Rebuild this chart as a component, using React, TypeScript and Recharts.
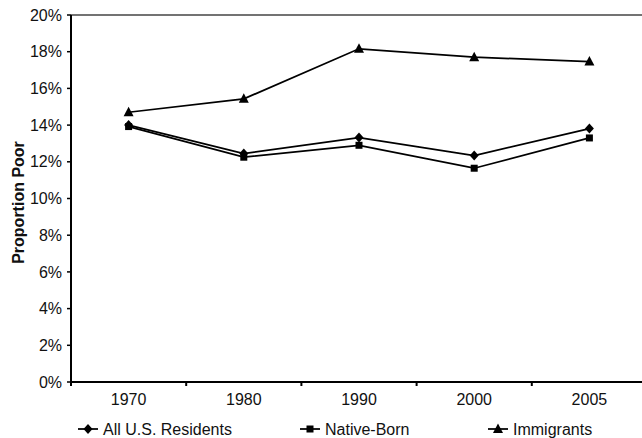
import React from 'react';
import { LineChart, Line, XAxis, YAxis, ReferenceLine, Legend } from 'recharts';

const years = ['1970', '1980', '1990', '2000', '2005'];
const allResidents = [14.0, 12.45, 13.32, 12.34, 13.81];
const nativeBorn = [13.92, 12.25, 12.9, 11.65, 13.3];
const immigrants = [14.7, 15.43, 18.16, 17.7, 17.46];
const yTicks = [0, 2, 4, 6, 8, 10, 12, 14, 16, 18, 20];
const seriesNames = ['All U.S. Residents', 'Native-Born', 'Immigrants'];

const data = years.map((year, i) => ({
  year,
  all: allResidents[i],
  native: nativeBorn[i],
  imm: immigrants[i],
}));

const W = 660;
const H = 438;
const MARGIN = { top: 15, right: 13, bottom: 0, left: 0 };
const Y_AXIS_W = 71;
const BAND = (W - MARGIN.left - MARGIN.right - Y_AXIS_W) / years.length;
const FONT = '"Liberation Sans", Arial, sans-serif';
const FS = 16;

const Diamond = ({ cx, cy }: any) => (
  <polygon points={`${cx},${cy - 5} ${cx + 4.5},${cy} ${cx},${cy + 5} ${cx - 4.5},${cy}`} fill="#000" />
);
const Square = ({ cx, cy }: any) => <rect x={cx - 3.5} y={cy - 3.5} width={7} height={7} fill="#000" />;
const Triangle = ({ cx, cy }: any) => (
  <polygon points={`${cx},${cy - 5.5} ${cx + 5},${cy + 4} ${cx - 5},${cy + 4}`} fill="#000" />
);
const markers = [Diamond, Square, Triangle];

// category labels at band centres, tick marks on the band edges (Excel style)
const XTick = ({ x, y, payload, index }: any) => (
  <g>
    {index === 0 && <line x1={x - BAND / 2} x2={x - BAND / 2} y1={y} y2={y + 4} stroke="#000" strokeWidth={2} />}
    <line x1={x + BAND / 2} x2={x + BAND / 2} y1={y} y2={y + 4} stroke="#000" strokeWidth={2} />
    <text x={x} y={y + 23} textAnchor="middle" fontSize={FS} fontFamily={FONT} fill="#111">
      {payload.value}
    </text>
  </g>
);

const YLabel = ({ viewBox }: any) => {
  const cy = viewBox.y + viewBox.height / 2 + 4;
  return (
    <text
      x={18}
      y={cy}
      transform={`rotate(-90, 18, ${cy})`}
      textAnchor="middle"
      dominantBaseline="central"
      fontSize={FS}
      fontWeight="bold"
      fontFamily={FONT}
      fill="#111"
    >
      Proportion Poor
    </text>
  );
};

const legendX = [78, 300, 488];

const LegendContent = () => (
  <svg width={W} height={26} style={{ display: 'block' }}>
    {seriesNames.map((name, i) => {
      const M = markers[i];
      const x0 = legendX[i];
      return (
        <g key={name}>
          <line x1={x0} x2={x0 + 20} y1={17} y2={17} stroke="#000" strokeWidth={1.75} />
          <M cx={x0 + 10} cy={17} />
          <text x={x0 + 25} y={17} dominantBaseline="central" fontSize={FS} fontFamily={FONT} fill="#111">
            {name}
          </text>
        </g>
      );
    })}
  </svg>
);

export default function App() {
  const keys = ['all', 'native', 'imm'];
  return (
    <div style={{ position: 'absolute', left: 0, top: 0, width: 642, height: H, overflow: 'hidden', background: '#fff' }}>
      <LineChart width={W} height={H} data={data} margin={MARGIN}>
        <ReferenceLine y={20} stroke="#444" strokeWidth={1.5} />
        <XAxis
          dataKey="year"
          height={30}
          padding={{ left: BAND / 2, right: BAND / 2 }}
          tick={<XTick />}
          tickLine={false}
          tickSize={0}
          tickMargin={0}
          axisLine={{ stroke: '#000', strokeWidth: 2 }}
          interval={0}
        />
        <YAxis
          width={Y_AXIS_W}
          domain={[0, 20]}
          ticks={yTicks}
          interval={0}
          tickFormatter={(v: number) => `${v}%`}
          tick={{ fontSize: FS, fontFamily: FONT, fill: '#111' }}
          tickSize={4}
          tickMargin={5}
          tickLine={{ stroke: '#000', strokeWidth: 1.5 }}
          axisLine={{ stroke: '#000', strokeWidth: 2 }}
          label={(props: any) => <YLabel viewBox={props.viewBox} />}
        />
        <Legend
          verticalAlign="bottom"
          height={26}
          wrapperStyle={{ left: 0, bottom: 0, width: W, height: 26 }}
          content={<LegendContent />}
        />
        {keys.map((k, i) => {
          const M = markers[i];
          return (
            <Line
              key={k}
              dataKey={k}
              name={seriesNames[i]}
              stroke="#000"
              strokeWidth={1.75}
              isAnimationActive={false}
              dot={(p: any) => <M key={`${k}-${p.index}`} cx={p.cx} cy={p.cy} />}
              activeDot={false}
            />
          );
        })}
      </LineChart>
    </div>
  );
}
